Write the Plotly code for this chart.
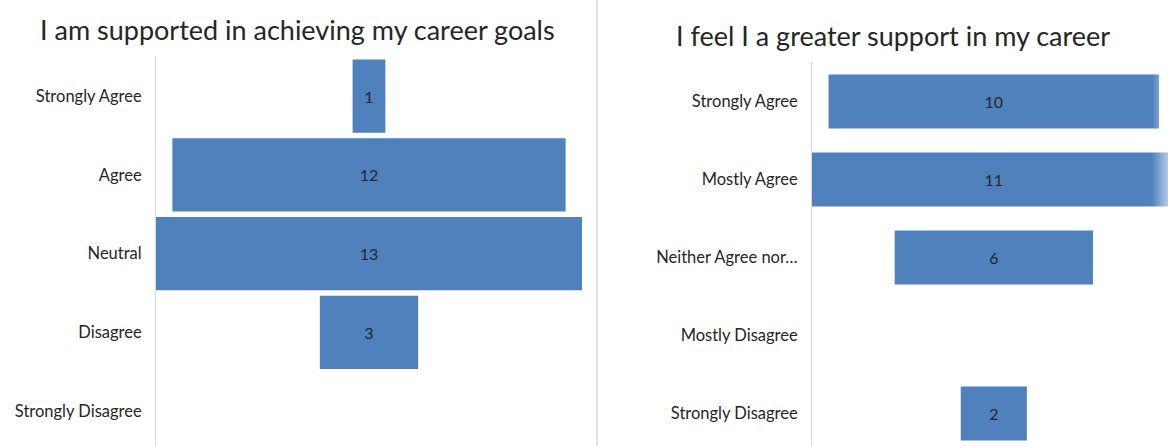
import plotly.graph_objects as go

# Survey responses, two questions shown as centred funnels
left_title = "I am supported in achieving my career goals"
left_categories = ["Strongly Agree", "Agree", "Neutral", "Disagree", "Strongly Disagree"]
left_counts = [1, 12, 13, 3, 0]

right_title = "I feel I a greater support in my career"
right_categories = ["Strongly Agree", "Mostly Agree", "Neither Agree nor…",
                    "Mostly Disagree", "Strongly Disagree"]
right_counts = [10, 11, 6, 0, 2]

W, H = 1168, 446
BAR = "#4f81bd"
FONT = "Lato"
TXT = "#262626"


def px_x(p):
    return p / W


def px_y(p):
    return 1 - p / H


def labels(vals):
    return [str(v) if v else "" for v in vals]


fig = go.Figure()

fig.add_trace(go.Funnel(
    y=left_categories, x=left_counts, text=labels(left_counts),
    textinfo="text", textposition="inside", insidetextanchor="middle",
    insidetextfont=dict(color=TXT, size=16, family=FONT),
    marker=dict(color=BAR, line=dict(width=0)), width=0.93,
    connector=dict(visible=False), hoverinfo="skip",
    xaxis="x", yaxis="y",
))
fig.add_trace(go.Funnel(
    y=right_categories, x=right_counts, text=labels(right_counts),
    textinfo="text", textposition="inside", insidetextanchor="middle",
    insidetextfont=dict(color=TXT, size=16, family=FONT),
    marker=dict(color=BAR, line=dict(width=0)), width=0.69,
    connector=dict(visible=False), hoverinfo="skip",
    xaxis="x2", yaxis="y2",
))

hidden_x = dict(showticklabels=False, showgrid=False, zeroline=False,
                showline=False, ticks="", fixedrange=True)
cat_y = dict(showgrid=False, zeroline=False, showline=True, linecolor="#d9d9d9",
             linewidth=1, ticks="", ticklabelstandoff=10,
             tickfont=dict(family=FONT, size=16.5, color=TXT), fixedrange=True)

# soft white fade along the right edge
fade = []
for i in range(16):
    fade.append(dict(type="rect", xref="paper", yref="paper", layer="above",
                     x0=px_x(1152 + i), x1=px_x(1153 + i), y0=0, y1=1,
                     fillcolor="white", opacity=0.03 + 0.035 * i, line=dict(width=0)))

fig.update_layout(
    width=W, height=H,
    margin=dict(l=0, r=0, t=0, b=0),
    paper_bgcolor="white", plot_bgcolor="white",
    showlegend=False,
    xaxis=dict(domain=[px_x(156), px_x(582)], range=[-6.5, 6.5], **hidden_x),
    yaxis=dict(domain=[0, px_y(56)], anchor="x", type="category",
               range=[4.444, -0.508], **cat_y),
    xaxis2=dict(domain=[px_x(812), 1.0], range=[-5.5, 5.27], anchor="y2", **hidden_x),
    yaxis2=dict(domain=[0, px_y(62)], anchor="x2", type="category",
                range=[4.417, -0.506], **cat_y),
    annotations=[
        dict(text=left_title, x=px_x(297), y=px_y(30), xref="paper", yref="paper",
             xanchor="center", yanchor="middle", showarrow=False,
             font=dict(family=FONT, size=27, color=TXT)),
        dict(text=right_title, x=px_x(893), y=px_y(35), xref="paper", yref="paper",
             xanchor="center", yanchor="middle", showarrow=False,
             font=dict(family=FONT, size=27, color=TXT)),
    ],
    shapes=[
        dict(type="line", xref="paper", yref="paper", x0=px_x(597), x1=px_x(597),
             y0=0, y1=1, line=dict(color="#d9d9d9", width=1.5)),
    ] + fade,
)

fig.write_html("out.html")
